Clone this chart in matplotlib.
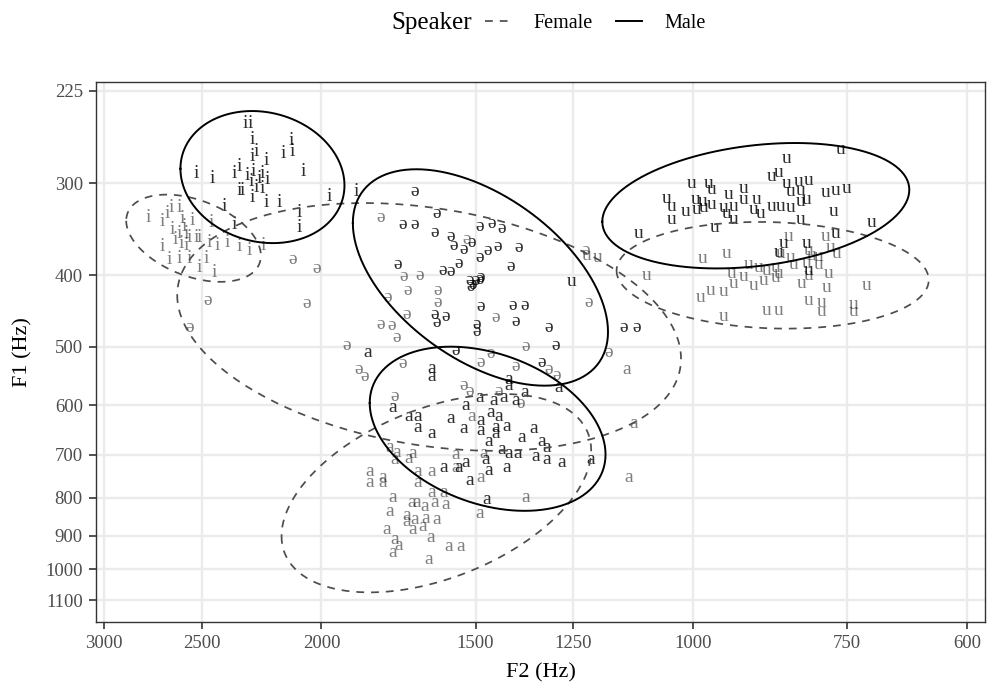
import numpy as np
import matplotlib
matplotlib.use("Agg")
import matplotlib.pyplot as plt
from matplotlib.lines import Line2D
from matplotlib.ticker import NullLocator

plt.rcParams['font.family'] = ['Liberation Serif', 'DejaVu Serif']

# ── formant values (Hz) ──────────────────────────────────────────────────────
male_i_f2 = [2304, 2283, 2274, 2258, 2274, 2216, 2115, 2111, 2147, 2069, 2524, 2450,
             2352, 2330, 2296, 2270, 2245, 2233, 2212, 2279, 2330, 2317, 2258, 2233,
             2274, 2216, 2163, 2396, 2352, 2084, 2084, 1971, 1874]
male_i_f1 = [249, 249, 262, 272, 276, 280, 263, 272, 274, 289, 291, 296, 291, 285, 293,
             289, 296, 291, 297, 299, 307, 307, 304, 305, 314, 319, 319, 323, 341, 329,
             345, 313, 308]

female_i_f2 = [2760, 2689, 2664, 2644, 2605, 2591, 2639, 2605, 2571, 2557, 2524, 2596,
               2571, 2689, 2605, 2654, 2557, 2510, 2478, 2455, 2464, 2428, 2383, 2330,
               2287, 2229, 2441, 2543, 2510, 2625, 2581]
female_i_f1 = [334, 338, 330, 324, 324, 335, 347, 351, 351, 356, 355, 362, 364, 366, 379,
               381, 379, 390, 379, 339, 361, 364, 361, 366, 370, 364, 397, 337, 355, 358,
               343]

male_schwa_f2 = [1682, 1720, 1679, 1614, 1620, 1570, 1562, 1535, 1510, 1490, 1455, 1428,
                 1490, 1466, 1439, 1383, 1406, 1547, 1736, 1596, 1570, 1518, 1507, 1499,
                 1513, 1490, 1620, 1614, 1585, 1485, 1401, 1370, 1391, 1310, 1496, 1496,
                 1137, 1110, 1556, 1291, 1325, 1485]
male_schwa_f1 = [308, 341, 341, 330, 350, 354, 364, 369, 361, 344, 340, 346, 378, 370,
                 366, 367, 389, 385, 387, 394, 395, 406, 411, 407, 414, 405, 452, 463,
                 455, 441, 440, 440, 462, 470, 466, 477, 470, 470, 505, 497, 524, 403]

female_schwa_f2 = [2111, 2019, 2473, 2054, 2557, 1909, 1789, 1714, 1666, 1704, 1769, 1611,
                   1611, 1524, 1707, 1444, 1789, 1755, 1739, 1221, 1214, 1846, 1720, 1746,
                   1533, 1518, 1436, 1378, 1458, 1365, 1391, 1171, 1485, 1308, 1289, 1864]
female_schwa_f1 = [381, 391, 432, 436, 471, 497, 334, 402, 400, 419, 428, 419, 435, 358,
                   452, 456, 466, 468, 485, 370, 435, 549, 526, 584, 563, 575, 575, 596,
                   510, 499, 532, 508, 524, 537, 546, 536]

male_a_f2 = [1836, 1627, 1627, 1752, 1698, 1672, 1672, 1627, 1570, 1533, 1527, 1490,
             1485, 1485, 1458, 1449, 1436, 1423, 1415, 1409, 1409, 1391, 1370, 1444,
             1444, 1463, 1428, 1409, 1388, 1376, 1345, 1325, 1315, 1340, 1315, 1277,
             1210, 1284, 1591, 1547, 1527, 1471, 1463, 1415, 1518, 1468]
male_a_f1 = [508, 534, 549, 603, 620, 621, 642, 654, 624, 644, 600, 586, 628, 648, 613,
             590, 621, 586, 640, 563, 554, 590, 577, 642, 654, 672, 689, 696, 696, 662,
             644, 672, 683, 704, 711, 716, 711, 568, 729, 727, 716, 711, 734, 729, 757,
             805]

female_a_f2 = [1762, 1739, 1688, 1746, 1698, 1829, 1785, 1829, 1785, 1672, 1672, 1627,
               1556, 1556, 1752, 1675, 1627, 1591, 1485, 1477, 1490, 1365, 1127, 1116,
               1131, 1510, 1762, 1691, 1651, 1620, 1585, 1707, 1682, 1645, 1614, 1707,
               1688, 1657, 1630, 1772, 1746, 1730, 1752, 1576, 1541, 1636]
female_a_f1 = [683, 694, 696, 711, 707, 738, 750, 763, 763, 738, 763, 738, 700, 727, 798,
               811, 788, 786, 752, 696, 839, 800, 752, 634, 537, 621, 836, 811, 823, 813,
               818, 844, 857, 852, 857, 862, 884, 876, 906, 884, 912, 927, 950, 932, 932,
               971]

male_u_f2 = [840, 759, 1002, 971, 966, 910, 863, 852, 840, 821, 806, 834, 818, 781, 766,
             751, 1050, 1040, 1013, 995, 983, 993, 980, 966, 944, 935, 927, 910, 888, 893,
             882, 863, 849, 834, 818, 809, 940, 1040, 927, 960, 818, 769, 717, 1106, 845,
             809, 766, 852, 806, 1253]
male_u_f1 = [278, 270, 300, 300, 306, 305, 294, 290, 300, 299, 298, 308, 307, 309, 307,
             305, 315, 323, 328, 316, 318, 326, 324, 321, 324, 311, 323, 316, 316, 326,
             330, 323, 323, 324, 318, 316, 330, 336, 336, 345, 336, 328, 339, 351, 362,
             362, 351, 372, 394, 408]

female_u_f2 = [1219, 1195, 1090, 983, 940, 837, 781, 849, 834, 806, 802, 791, 773, 765,
               901, 885, 871, 857, 852, 829, 809, 791, 777, 931, 910, 927, 893, 876, 857,
               817, 806, 985, 967, 944, 944, 871, 852, 806, 787, 787, 780, 741, 741, 723]
female_u_f1 = [376, 378, 400, 379, 374, 354, 354, 374, 378, 370, 376, 377, 367, 374, 387,
               390, 394, 390, 398, 387, 385, 387, 398, 398, 402, 410, 413, 406, 403, 410,
               400, 428, 419, 421, 454, 446, 446, 432, 435, 448, 416, 438, 448, 413]

f2_breaks = [3000, 2500, 2000, 1500, 1250, 1000, 750, 600]
f1_breaks = [225, 300, 400, 500, 600, 700, 800, 900, 1000, 1100]

groups = [
    ('i', 'Female', female_i_f2, female_i_f1),
    ('ə', 'Female', female_schwa_f2, female_schwa_f1),
    ('a', 'Female', female_a_f2, female_a_f1),
    ('u', 'Female', female_u_f2, female_u_f1),
    ('i', 'Male', male_i_f2, male_i_f1),
    ('ə', 'Male', male_schwa_f2, male_schwa_f1),
    ('a', 'Male', male_a_f2, male_a_f1),
    ('u', 'Male', male_u_f2, male_u_f1),
]

TEXT_ALPHA = {'Female': 0.5, 'Male': 0.82}
LINE_STYLE = {'Female': dict(color='#4d4d4d', lw=1.25, ls=(0, (4.5, 4))),
              'Male': dict(color='black', lw=1.4, ls='-')}


def ellipse_path(f2, f1, level=0.95, segments=240):
    # normal-theory ellipse, computed on log10 values as the log scales do
    pts = np.log10(np.column_stack([f2, f1]).astype(float))
    m = len(pts) - 1
    loc = pts.mean(axis=0)
    cov = np.cov(pts, rowvar=False)
    fq = m / 2 * ((1 - level) ** (-2 / m) - 1)   # qf(level, 2, m)
    radius = np.sqrt(2 * fq)
    t = np.linspace(0, 2 * np.pi, segments + 1)
    circle = np.column_stack([np.cos(t), np.sin(t)])
    e = loc + radius * circle @ np.linalg.cholesky(cov).T
    return 10 ** e[:, 0], 10 ** e[:, 1]


fig = plt.figure(figsize=(9.88, 6.83), dpi=100)
ax = fig.add_axes([0.0972, 0.0893, 0.8998, 0.7906])

for vowel, speaker, f2, f1 in groups:
    for x, y in zip(f2, f1):
        ax.text(x, y, vowel, ha='center', va='center', fontsize=14,
                color='black', alpha=TEXT_ALPHA[speaker], zorder=3)

for vowel, speaker, f2, f1 in groups:
    ex, ey = ellipse_path(f2, f1)
    ax.plot(ex, ey, zorder=4, **LINE_STYLE[speaker])

ax.set_xscale('log')
ax.set_yscale('log')
ax.set_xlim(3045, 580)
ax.set_ylim(1178, 219)
ax.set_xticks(f2_breaks)
ax.set_xticklabels([str(b) for b in f2_breaks])
ax.set_yticks(f1_breaks)
ax.set_yticklabels([str(b) for b in f1_breaks])
ax.xaxis.set_minor_locator(NullLocator())
ax.yaxis.set_minor_locator(NullLocator())

ax.grid(True, color='#ebebeb', lw=1.7)
ax.set_axisbelow(True)
for s in ax.spines.values():
    s.set_color('#333333')
    s.set_linewidth(1.0)
ax.tick_params(length=5, width=1.2, color='#333333', labelcolor='#4d4d4d',
               labelsize=13.5, pad=4.5)

ax.set_xlabel('F2 (Hz)', fontsize=16, labelpad=8)
ax.set_ylabel('F1 (Hz)', fontsize=16, labelpad=9)

fig.text(0.4777, 0.966, 'Speaker', ha='right', va='center', fontsize=18)
handles = [Line2D([], [], **LINE_STYLE['Female']), Line2D([], [], **LINE_STYLE['Male'])]
fig.legend(handles, ['Female', 'Male'], loc='center left', bbox_to_anchor=(0.491, 0.966),
           ncol=2, frameon=False, fontsize=14.5, handlelength=1.3, handletextpad=1.1,
           columnspacing=1.15, borderpad=0, borderaxespad=0)

fig.savefig('out.png', dpi=100)
